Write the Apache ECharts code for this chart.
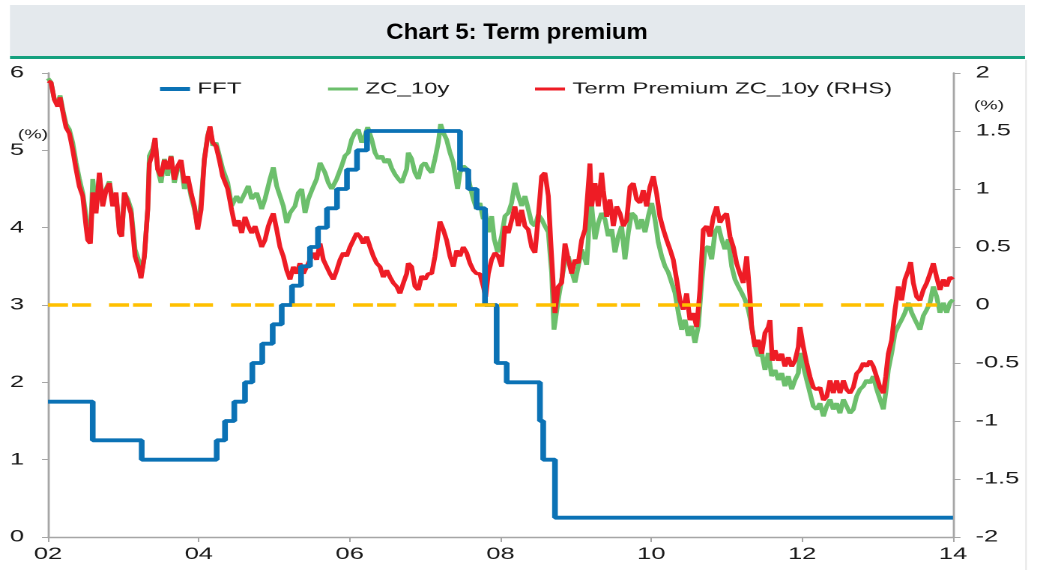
<!DOCTYPE html>
<html>
<head lang="en">
    <meta charset="UTF-8">
    <title>Chart 5: Term premium</title>
    <script src="https://cdn.jsdelivr.net/npm/echarts@6/dist/echarts.min.js"></script>
    <style>
        html, body {
            margin: 0;
            padding: 0;
            background: #fff;
            overflow: hidden;
        }

        /* the original picture is stretched sideways, so the chart is drawn narrow and widened */
        #chart {
            width: 700px;
            height: 570px;
            transform-origin: 0 0;
            transform: scaleX(1.498571);
        }
    </style>
</head>
<body>
<div id="chart"></div>

<script>
    // Fed funds target (LHS), [year, %], each point is a change of the target
    var fft = [
        [2002.000, 1.75], [2002.593, 1.25], [2003.242, 1.00], [2004.237, 1.25], [2004.347, 1.50],
        [2004.470, 1.75], [2004.612, 2.00], [2004.709, 2.25], [2004.841, 2.50], [2004.979, 2.75],
        [2005.099, 3.00], [2005.235, 3.25], [2005.355, 3.50], [2005.474, 3.75], [2005.580, 4.00],
        [2005.699, 4.25], [2005.832, 4.50], [2005.964, 4.75], [2006.097, 5.00], [2006.230, 5.25],
        [2007.463, 4.75], [2007.573, 4.50], [2007.684, 4.25], [2007.794, 3.00], [2007.949, 2.25],
        [2008.082, 2.00], [2008.523, 1.50], [2008.566, 1.00], [2008.722, 0.25], [2014.000, 0.25]
    ];

    // ZC_10y (LHS), [year, %]
    var zc10y = [
        [2002.000, 5.93], [2002.040, 5.88], [2002.084, 5.66], [2002.129, 5.60], [2002.160, 5.71], [2002.195, 5.53],
        [2002.239, 5.34], [2002.283, 5.27], [2002.327, 5.10], [2002.372, 4.84], [2002.416, 4.63], [2002.460, 4.45],
        [2002.504, 4.15], [2002.526, 3.89], [2002.562, 3.85], [2002.593, 4.63], [2002.637, 4.24], [2002.681, 4.67],
        [2002.725, 4.32], [2002.770, 4.50], [2002.814, 4.60], [2002.858, 4.32], [2002.902, 4.41], [2002.946, 3.98],
        [2002.977, 3.89], [2003.013, 4.45], [2003.057, 4.37], [2003.101, 4.24], [2003.154, 3.72], [2003.211, 3.55],
        [2003.233, 3.37], [2003.278, 3.63], [2003.322, 4.24], [2003.344, 4.93], [2003.388, 5.02], [2003.419, 5.14],
        [2003.454, 4.76], [2003.499, 4.58], [2003.543, 4.89], [2003.587, 4.67], [2003.631, 4.93], [2003.675, 4.58],
        [2003.720, 4.76], [2003.764, 4.84], [2003.808, 4.50], [2003.852, 4.63], [2003.896, 4.41], [2003.941, 4.24],
        [2003.985, 4.02], [2004.029, 4.32], [2004.073, 4.89], [2004.117, 5.19], [2004.148, 5.30], [2004.184, 5.06],
        [2004.228, 5.10], [2004.272, 4.93], [2004.316, 4.76], [2004.383, 4.58], [2004.435, 4.28], [2004.502, 4.41],
        [2004.546, 4.32], [2004.612, 4.45], [2004.656, 4.54], [2004.701, 4.37], [2004.767, 4.45], [2004.833, 4.24],
        [2004.877, 4.37], [2004.944, 4.63], [2004.988, 4.78], [2005.032, 4.54], [2005.076, 4.41], [2005.120, 4.28],
        [2005.165, 4.06], [2005.209, 4.19], [2005.275, 4.28], [2005.319, 4.45], [2005.364, 4.50], [2005.408, 4.19],
        [2005.452, 4.37], [2005.505, 4.50], [2005.562, 4.63], [2005.607, 4.84], [2005.673, 4.71], [2005.717, 4.58],
        [2005.761, 4.50], [2005.828, 4.63], [2005.894, 4.80], [2005.938, 4.93], [2005.982, 4.97], [2006.026, 5.14],
        [2006.071, 5.23], [2006.115, 5.27], [2006.159, 5.10], [2006.203, 5.19], [2006.239, 5.30], [2006.292, 5.14],
        [2006.336, 4.97], [2006.380, 4.89], [2006.424, 4.93], [2006.469, 4.84], [2006.513, 4.89], [2006.557, 4.77],
        [2006.601, 4.69], [2006.645, 4.63], [2006.690, 4.58], [2006.756, 4.76], [2006.777, 4.97], [2006.821, 4.89],
        [2006.866, 4.71], [2006.910, 4.63], [2006.954, 4.80], [2006.998, 4.84], [2007.042, 4.76], [2007.087, 4.71],
        [2007.131, 4.89], [2007.175, 5.10], [2007.206, 5.34], [2007.241, 5.23], [2007.285, 5.14], [2007.330, 4.97],
        [2007.374, 4.84], [2007.431, 4.50], [2007.462, 4.71], [2007.506, 4.80], [2007.551, 4.76], [2007.595, 4.54],
        [2007.639, 4.37], [2007.683, 4.24], [2007.727, 4.32], [2007.772, 4.11], [2007.794, 4.24], [2007.838, 3.94],
        [2007.882, 4.15], [2007.917, 3.85], [2007.962, 3.68], [2008.015, 3.89], [2008.059, 4.15], [2008.103, 4.19],
        [2008.147, 4.32], [2008.191, 4.58], [2008.236, 4.41], [2008.280, 4.28], [2008.324, 4.41], [2008.368, 4.24],
        [2008.413, 4.06], [2008.457, 4.02], [2008.501, 4.17], [2008.545, 4.11], [2008.589, 4.02], [2008.634, 3.94],
        [2008.678, 3.42], [2008.709, 2.68], [2008.766, 3.07], [2008.811, 3.33], [2008.855, 3.57], [2008.899, 3.63],
        [2008.943, 3.44], [2008.987, 3.29], [2009.031, 3.50], [2009.076, 3.72], [2009.142, 3.52], [2009.164, 3.85],
        [2009.186, 4.37], [2009.208, 4.28], [2009.253, 3.85], [2009.297, 4.06], [2009.341, 4.19], [2009.385, 4.11],
        [2009.429, 3.89], [2009.474, 3.98], [2009.518, 3.68], [2009.562, 3.89], [2009.606, 4.02], [2009.650, 3.59],
        [2009.695, 3.94], [2009.739, 4.19], [2009.783, 4.15], [2009.827, 3.98], [2009.871, 4.11], [2009.916, 3.94],
        [2009.960, 4.15], [2010.004, 4.32], [2010.048, 4.11], [2010.092, 3.81], [2010.137, 3.63], [2010.181, 3.50],
        [2010.225, 3.42], [2010.269, 3.29], [2010.313, 3.16], [2010.358, 2.90], [2010.402, 2.68], [2010.446, 2.81],
        [2010.490, 2.60], [2010.534, 2.73], [2010.579, 2.51], [2010.623, 2.73], [2010.667, 3.29], [2010.711, 3.72],
        [2010.755, 3.76], [2010.800, 3.59], [2010.844, 3.94], [2010.888, 4.02], [2010.932, 3.85], [2010.976, 3.72],
        [2011.021, 3.85], [2011.065, 3.50], [2011.109, 3.33], [2011.153, 3.24], [2011.197, 3.16], [2011.242, 3.07],
        [2011.286, 2.94], [2011.330, 2.73], [2011.374, 2.47], [2011.418, 2.34], [2011.463, 2.38], [2011.507, 2.16],
        [2011.551, 2.38], [2011.595, 2.08], [2011.640, 2.16], [2011.684, 2.03], [2011.728, 2.12], [2011.772, 1.95],
        [2011.816, 2.08], [2011.861, 1.91], [2011.905, 2.03], [2011.949, 2.12], [2011.971, 2.38], [2012.015, 2.21],
        [2012.060, 2.03], [2012.104, 1.86], [2012.148, 1.69], [2012.192, 1.65], [2012.236, 1.73], [2012.281, 1.56],
        [2012.325, 1.69], [2012.369, 1.78], [2012.413, 1.65], [2012.457, 1.73], [2012.501, 1.60], [2012.546, 1.78],
        [2012.590, 1.69], [2012.634, 1.60], [2012.678, 1.65], [2012.722, 1.82], [2012.767, 1.91], [2012.811, 1.95],
        [2012.855, 2.03], [2012.899, 1.99], [2012.943, 2.08], [2012.988, 1.91], [2013.032, 1.78], [2013.076, 1.65],
        [2013.107, 1.86], [2013.142, 2.16], [2013.187, 2.38], [2013.231, 2.64], [2013.275, 2.73], [2013.319, 2.81],
        [2013.363, 2.90], [2013.408, 3.03], [2013.452, 2.90], [2013.496, 2.81], [2013.562, 2.68], [2013.606, 2.86],
        [2013.651, 2.94], [2013.695, 3.03], [2013.739, 3.24], [2013.783, 3.11], [2013.827, 2.90], [2013.872, 3.03],
        [2013.916, 2.90], [2013.960, 3.03], [2014.000, 3.07]
    ];

    // Term Premium ZC_10y (RHS), [year, %]
    var termPremium = [
        [2002.000, 1.93], [2002.040, 1.92], [2002.084, 1.77], [2002.129, 1.71], [2002.160, 1.79], [2002.195, 1.67],
        [2002.239, 1.53], [2002.283, 1.48], [2002.327, 1.34], [2002.372, 1.17], [2002.416, 1.02], [2002.460, 0.94],
        [2002.504, 0.68], [2002.526, 0.56], [2002.562, 0.53], [2002.593, 0.97], [2002.637, 0.79], [2002.681, 1.14],
        [2002.725, 0.85], [2002.770, 0.99], [2002.814, 1.05], [2002.858, 0.85], [2002.902, 0.97], [2002.946, 0.62],
        [2002.977, 0.59], [2003.013, 0.97], [2003.057, 0.88], [2003.101, 0.79], [2003.154, 0.42], [2003.211, 0.30],
        [2003.233, 0.23], [2003.278, 0.42], [2003.322, 0.82], [2003.344, 1.22], [2003.388, 1.31], [2003.419, 1.44],
        [2003.454, 1.17], [2003.499, 1.11], [2003.543, 1.25], [2003.587, 1.17], [2003.631, 1.28], [2003.675, 1.08],
        [2003.720, 1.20], [2003.764, 1.25], [2003.808, 1.05], [2003.852, 1.11], [2003.896, 0.97], [2003.941, 0.85],
        [2003.985, 0.65], [2004.029, 0.82], [2004.073, 1.25], [2004.117, 1.45], [2004.148, 1.54], [2004.184, 1.40],
        [2004.228, 1.37], [2004.272, 1.25], [2004.316, 1.11], [2004.383, 1.00], [2004.435, 0.82], [2004.480, 0.68],
        [2004.524, 0.73], [2004.568, 0.62], [2004.612, 0.76], [2004.656, 0.68], [2004.701, 0.62], [2004.745, 0.68],
        [2004.789, 0.59], [2004.833, 0.50], [2004.877, 0.56], [2004.921, 0.68], [2004.966, 0.76], [2004.988, 0.79],
        [2005.032, 0.65], [2005.076, 0.50], [2005.120, 0.42], [2005.165, 0.30], [2005.209, 0.22], [2005.253, 0.33],
        [2005.297, 0.27], [2005.341, 0.36], [2005.386, 0.27], [2005.430, 0.33], [2005.474, 0.39], [2005.518, 0.45],
        [2005.562, 0.39], [2005.607, 0.53], [2005.651, 0.39], [2005.695, 0.33], [2005.739, 0.27], [2005.783, 0.22],
        [2005.828, 0.30], [2005.872, 0.39], [2005.916, 0.45], [2005.960, 0.42], [2006.004, 0.50], [2006.049, 0.56],
        [2006.093, 0.62], [2006.137, 0.59], [2006.181, 0.53], [2006.225, 0.59], [2006.270, 0.50], [2006.314, 0.42],
        [2006.358, 0.36], [2006.402, 0.33], [2006.446, 0.24], [2006.491, 0.30], [2006.535, 0.24], [2006.579, 0.19],
        [2006.623, 0.16], [2006.667, 0.10], [2006.712, 0.19], [2006.756, 0.27], [2006.777, 0.36], [2006.821, 0.33],
        [2006.866, 0.16], [2006.910, 0.13], [2006.954, 0.25], [2006.998, 0.22], [2007.042, 0.27], [2007.087, 0.27],
        [2007.131, 0.42], [2007.175, 0.62], [2007.197, 0.72], [2007.241, 0.65], [2007.285, 0.56], [2007.330, 0.42],
        [2007.374, 0.33], [2007.418, 0.47], [2007.462, 0.42], [2007.506, 0.50], [2007.551, 0.45], [2007.595, 0.36],
        [2007.639, 0.30], [2007.683, 0.27], [2007.727, 0.27], [2007.772, 0.16], [2007.803, 0.07], [2007.838, 0.27],
        [2007.882, 0.39], [2007.926, 0.45], [2007.971, 0.42], [2008.015, 0.33], [2008.059, 0.68], [2008.103, 0.62],
        [2008.147, 0.73], [2008.191, 0.85], [2008.236, 0.68], [2008.280, 0.82], [2008.324, 0.68], [2008.368, 0.65],
        [2008.413, 0.50], [2008.457, 0.45], [2008.501, 0.76], [2008.545, 1.11], [2008.589, 1.14], [2008.634, 0.94],
        [2008.665, 0.56], [2008.700, 0.16], [2008.722, -0.07], [2008.766, 0.16], [2008.811, 0.19], [2008.855, 0.53],
        [2008.899, 0.39], [2008.943, 0.27], [2008.987, 0.39], [2009.031, 0.36], [2009.076, 0.56], [2009.120, 0.65],
        [2009.186, 1.22], [2009.208, 0.85], [2009.253, 1.05], [2009.297, 0.85], [2009.341, 1.14], [2009.363, 0.99],
        [2009.407, 0.76], [2009.451, 0.91], [2009.496, 0.68], [2009.540, 0.85], [2009.584, 0.79], [2009.628, 0.68],
        [2009.672, 0.73], [2009.717, 1.02], [2009.761, 1.05], [2009.805, 0.91], [2009.849, 0.88], [2009.893, 0.99],
        [2009.938, 0.85], [2009.982, 1.02], [2010.026, 1.11], [2010.070, 0.96], [2010.114, 0.76], [2010.159, 0.65],
        [2010.203, 0.56], [2010.247, 0.48], [2010.291, 0.39], [2010.335, 0.22], [2010.380, 0.04], [2010.424, -0.04],
        [2010.468, 0.10], [2010.512, -0.13], [2010.556, -0.07], [2010.601, -0.19], [2010.645, 0.13], [2010.689, 0.65],
        [2010.733, 0.68], [2010.777, 0.59], [2010.822, 0.76], [2010.866, 0.85], [2010.910, 0.71], [2010.954, 0.76],
        [2010.998, 0.79], [2011.043, 0.59], [2011.087, 0.50], [2011.131, 0.36], [2011.175, 0.27], [2011.219, 0.19],
        [2011.264, 0.42], [2011.308, 0.07], [2011.330, -0.19], [2011.374, -0.36], [2011.418, -0.30], [2011.463, -0.42],
        [2011.507, -0.24], [2011.551, -0.19], [2011.573, -0.13], [2011.604, -0.48], [2011.640, -0.39], [2011.684, -0.48],
        [2011.728, -0.42], [2011.772, -0.53], [2011.816, -0.45], [2011.861, -0.53], [2011.905, -0.48], [2011.949, -0.36],
        [2011.971, -0.19], [2012.015, -0.36], [2012.060, -0.50], [2012.104, -0.62], [2012.148, -0.71], [2012.192, -0.73],
        [2012.236, -0.71], [2012.281, -0.82], [2012.325, -0.79], [2012.369, -0.65], [2012.413, -0.76], [2012.457, -0.65],
        [2012.501, -0.76], [2012.546, -0.65], [2012.590, -0.73], [2012.634, -0.76], [2012.678, -0.71], [2012.722, -0.59],
        [2012.767, -0.56], [2012.811, -0.50], [2012.855, -0.53], [2012.899, -0.48], [2012.943, -0.53], [2012.988, -0.62],
        [2013.032, -0.71], [2013.076, -0.76], [2013.107, -0.62], [2013.142, -0.42], [2013.187, -0.30], [2013.231, -0.04],
        [2013.275, 0.16], [2013.319, 0.04], [2013.363, 0.22], [2013.408, 0.30], [2013.438, 0.37], [2013.474, 0.19],
        [2013.518, 0.07], [2013.562, 0.04], [2013.606, 0.13], [2013.651, 0.19], [2013.695, 0.27], [2013.739, 0.36],
        [2013.783, 0.24], [2013.827, 0.13], [2013.872, 0.22], [2013.916, 0.16], [2013.960, 0.24], [2014.000, 0.22]
    ];

    // dashed reference line at 0 on the RHS
    var zeroLine = [[2002.000, 0], [2013.790, 0]];

    var legendNames = ['FFT', 'ZC_10y', 'Term Premium ZC_10y (RHS)'];

    // sideways stretch of the picture; positions below are given in picture pixels / S
    var S = 1049 / 700;
    var FONT = "'Liberation Sans', Arial, sans-serif";
    var TEXT = '#1a1a1a';
    var AXIS = '#a6a6a6';

    // one legend per item so each can sit where the original puts it
    function legendAt(name, x, thick) {
        return {
            data: [name],
            left: x / S,
            top: 81,
            padding: 0,
            icon: 'rect',
            itemWidth: 30 / S,
            itemHeight: thick,
            selectedMode: false,
            textStyle: {fontFamily: FONT, fontSize: 16, color: TEXT}
        };
    }

    var myChart = echarts.init(document.getElementById('chart'), null, {devicePixelRatio: 2});

    var option = {
        animation: false,
        backgroundColor: '#fff',
        grid: {left: 48 / S, right: 700 - 953 / S, top: 73, bottom: 33},
        legend: [
            legendAt(legendNames[0], 160, 4),
            legendAt(legendNames[1], 328, 3),
            legendAt(legendNames[2], 535, 3)
        ],
        xAxis: {
            type: 'value',
            min: 2002,
            max: 2014,
            interval: 2,
            axisLine: {show: true, lineStyle: {color: AXIS, width: 1.4}},
            axisTick: {show: true, length: 5, lineStyle: {color: AXIS, width: 1}},
            splitLine: {show: false},
            axisLabel: {
                margin: 9,
                fontFamily: FONT,
                fontSize: 17,
                color: TEXT,
                formatter: function (v) {
                    return String(v).slice(2);
                }
            }
        },
        yAxis: [
            {
                type: 'value',
                position: 'left',
                min: 0,
                max: 6,
                interval: 1,
                axisLine: {show: true, lineStyle: {color: AXIS, width: 1.4}},
                axisTick: {show: true, length: 4, lineStyle: {color: AXIS}},
                splitLine: {show: false},
                axisLabel: {margin: 16, fontFamily: FONT, fontSize: 17, color: TEXT}
            },
            {
                type: 'value',
                position: 'right',
                min: -2,
                max: 2,
                interval: 0.5,
                axisLine: {show: true, lineStyle: {color: AXIS, width: 1.4}},
                axisTick: {show: true, length: 5, lineStyle: {color: AXIS}},
                splitLine: {show: false},
                axisLabel: {margin: 15, fontFamily: FONT, fontSize: 17, color: TEXT}
            }
        ],
        series: [
            {
                name: legendNames[1],
                type: 'line',
                yAxisIndex: 0,
                symbol: 'none',
                color: '#6cbf6c',
                lineStyle: {width: 3.2, color: '#6cbf6c'},
                data: zc10y
            },
            {
                name: legendNames[2],
                type: 'line',
                yAxisIndex: 1,
                symbol: 'none',
                color: '#ee1c25',
                lineStyle: {width: 3.2, color: '#ee1c25'},
                data: termPremium
            },
            {
                name: legendNames[0],
                type: 'line',
                yAxisIndex: 0,
                step: 'end',
                symbol: 'none',
                color: '#0b72b5',
                lineStyle: {width: 3.8, color: '#0b72b5'},
                data: fft
            },
            {
                name: 'zero',
                type: 'line',
                yAxisIndex: 1,
                symbol: 'none',
                silent: true,
                lineStyle: {
                    width: 3.5,
                    color: '#ffc000',
                    cap: 'butt',
                    type: [20 / S, 4 / S, 19 / S, 18 / S]
                },
                data: zeroLine
            }
        ],
        graphic: [
            {
                type: 'rect',
                shape: {x: 10 / S, y: 5, width: 1015 / S, height: 52},
                style: {fill: '#e4e9ed'},
                silent: true
            },
            {
                type: 'rect',
                shape: {x: 10 / S, y: 56, width: 1015 / S, height: 3},
                style: {fill: '#14a07e'},
                silent: true
            },
            {
                type: 'text',
                x: 517 / S,
                y: 33,
                scaleX: 1.087 / S,
                style: {
                    text: 'Chart 5: Term premium',
                    x: 0,
                    y: 0,
                    align: 'center',
                    verticalAlign: 'middle',
                    font: "bold 22px 'Liberation Sans', Arial, sans-serif",
                    fill: '#000'
                },
                silent: true
            },
            {
                type: 'line',
                shape: {x1: 1026 / S, y1: 60, x2: 1026 / S, y2: 570},
                style: {stroke: '#e6e6e6', lineWidth: 1},
                silent: true
            },
            {
                type: 'text',
                x: 33 / S,
                y: 135,
                style: {
                    text: '(%)', x: 0, y: 0, align: 'center', verticalAlign: 'middle',
                    font: "13px 'Liberation Sans', Arial, sans-serif", fill: TEXT
                },
                silent: true
            },
            {
                type: 'text',
                x: 989 / S,
                y: 106,
                style: {
                    text: '(%)', x: 0, y: 0, align: 'center', verticalAlign: 'middle',
                    font: "13px 'Liberation Sans', Arial, sans-serif", fill: TEXT
                },
                silent: true
            }
        ]
    };

    myChart.setOption(option);
</script>
</body>
</html>
